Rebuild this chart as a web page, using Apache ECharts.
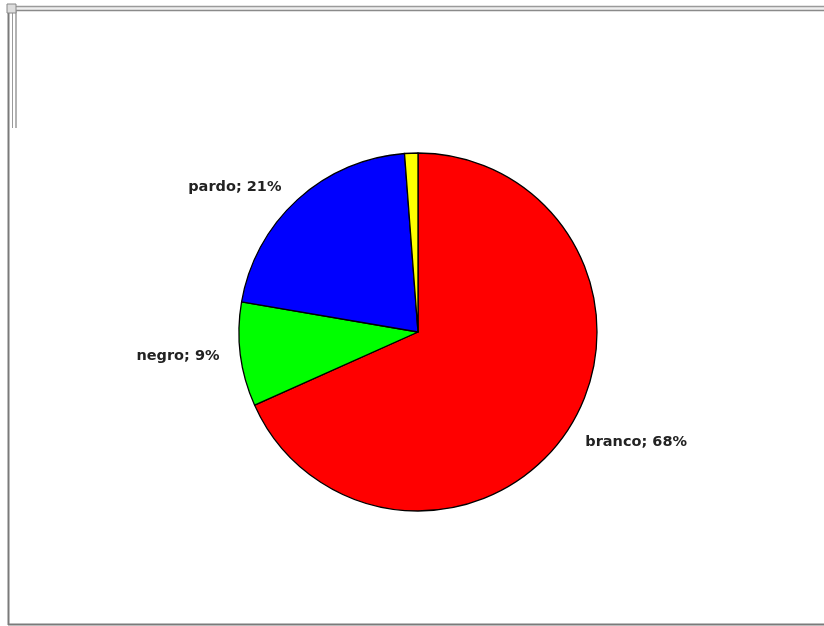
<!DOCTYPE html>
<html>
<head>
<meta charset="utf-8">
<script src="https://cdn.jsdelivr.net/npm/echarts@6/dist/echarts.min.js"></script>
<style>html,body{margin:0;padding:0;background:#fff;}#c{width:824px;height:626px;}</style>
</head>
<body>
<div id="c"></div>
<script>
var categories = ['branco', 'negro', 'pardo', 'amarelo'];
var values = [68.3, 9.4, 21.1, 1.2];
var colors = ['#ff0000', '#00ff00', '#0000ff', '#ffff00'];
var showLabel = [true, true, true, false];
var labelOffsets = [[2, 6], [-4, 0], [-3, -3], [0, 0]];

var chart = echarts.init(document.getElementById('c'), null, {renderer: 'canvas'});
var data = categories.map(function (n, i) {
  return {name: n, value: values[i], itemStyle: {color: colors[i]},
          label: {show: showLabel[i], offset: labelOffsets[i]}};
});
chart.setOption({
  backgroundColor: '#ffffff',
  animation: false,
  graphic: [
    {type: 'rect', shape: {x: 8, y: 6, width: 816, height: 5}, style: {fill: '#efefef'}},
    {type: 'line', shape: {x1: 8, y1: 6.5, x2: 824, y2: 6.5}, style: {stroke: '#9a9a9a', lineWidth: 1.5}},
    {type: 'line', shape: {x1: 8, y1: 10.5, x2: 824, y2: 10.5}, style: {stroke: '#8a8a8a', lineWidth: 1.5}},
    {type: 'line', shape: {x1: 8.5, y1: 6, x2: 8.5, y2: 625}, style: {stroke: '#7a7a7a', lineWidth: 2}},
    {type: 'line', shape: {x1: 12.5, y1: 10, x2: 12.5, y2: 128}, style: {stroke: '#9a9a9a', lineWidth: 1}},
    {type: 'line', shape: {x1: 16, y1: 10, x2: 16, y2: 128}, style: {stroke: '#9a9a9a', lineWidth: 1.5}},
    {type: 'line', shape: {x1: 8, y1: 624.5, x2: 824, y2: 624.5}, style: {stroke: '#7a7a7a', lineWidth: 2}},
    {type: 'rect', shape: {x: 7, y: 4, width: 9, height: 9}, style: {fill: '#dddddd', stroke: '#888', lineWidth: 1}}
  ],
  series: [{
    type: 'pie',
    center: [418, 332],
    radius: 179,
    startAngle: 90,
    clockwise: true,
    avoidLabelOverlap: false,
    itemStyle: {borderColor: '#000000', borderWidth: 1.3},
    label: {
      position: 'outside',
      formatter: function (p) { return p.name + '; ' + Math.round(p.percent) + '%'; },
      fontFamily: 'DejaVu Sans',
      fontWeight: 'bold',
      fontSize: 14.5,
      color: '#222222'
    },
    labelLine: {show: false, length: 12, length2: 0},
    emphasis: {disabled: true},
    data: data
  }]
});
</script>
</body>
</html>
